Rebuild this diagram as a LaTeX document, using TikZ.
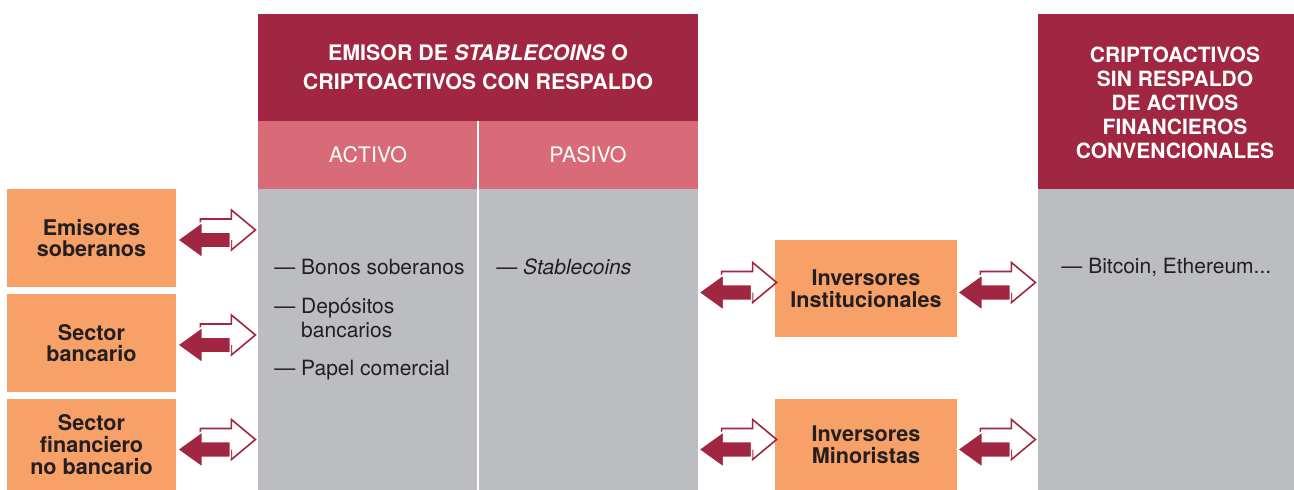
\documentclass[tikz,border=0pt]{standalone}
\usepackage{fontspec}
\setmainfont{TeX Gyre Heros}
\usetikzlibrary{calc,positioning}
\definecolor{granate}{HTML}{A02641}
\definecolor{rosa}{HTML}{D96B79}
\definecolor{gris}{HTML}{BCBDC0}
\definecolor{naranja}{HTML}{F7A067}
\definecolor{tinta}{HTML}{231F20}
\tikzset{
    cabecera/.style={fill=granate,inner sep=0pt,text=white,align=center,
      font=\bfseries\fontsize{10.7}{14.5}\selectfont},
    subcab/.style={fill=rosa,inner sep=0pt,text=white,
      minimum width=110pt,minimum height=34pt,font=\fontsize{10.7}{13}\selectfont},
    cuerpo/.style={fill=gris,inner sep=0pt,minimum width=110pt,minimum height=150.5pt},
    actor/.style={fill=naranja,inner sep=0pt,text=tinta,align=center,
      minimum width=84.5pt,font=\bfseries\fontsize{10.8}{10.8}\selectfont},
    partida/.style={anchor=west,inner sep=0pt,text=tinta,align=left,
      font=\fontsize{10.5}{12}\selectfont},
    dobleflecha/.pic={
      \draw[granate,fill=white,line width=0.8pt] (23,-21) -- (54,-21) -- (54,-30)
        -- (78,-10) -- (54,10) -- (54,1) -- (23,1) -- cycle;
      \draw[white,fill=granate,line width=0.8pt] (0,0) -- (25,-18) -- (25,-8)
        -- (53,-8) -- (53,8) -- (25,8) -- (25,18) -- cycle;
    }
}
\begin{document}
\begin{tikzpicture}[x=0.5pt,y=-0.5pt]
  \useasboundingbox[fill=white] (0,0) rectangle (1294,490);

  \node[actor,minimum height=49pt] (sob) at (91.5,238) {Emisores\\soberanos};
  \node[actor,minimum height=49pt] (ban) at (91.5,343) {Sector\\bancario};
  \node[actor,minimum height=45.5pt] (nob) at (91.5,444.5) {Sector\\financiero\\no bancario};

  \node[cabecera,minimum width=220pt,minimum height=53.5pt] (emi) at (478,67.5)
    {EMISOR DE \textit{STABLECOINS} O\\CRIPTOACTIVOS CON RESPALDO};
  \node[subcab] (act) at (368,155) {ACTIVO};
  \node[subcab] (pas) at (588,155) {PASIVO};
  \node[cuerpo] (actb) at (368,339.5) {};
  \node[cuerpo] (pasb) at (588,339.5) {};
  \draw[white,line width=1pt] (act.north east) -- (actb.south east);

  \node[partida] (bon) at (274,267) {— Bonos soberanos};
  \node[partida] (dep) at (274,318) {— Depósitos\\\hphantom{— }bancarios};
  \node[partida] (pap) at (274,370) {— Papel comercial};
  \node[partida] (stc) at (496,267) {— \textit{Stablecoins}};

  \node[actor,minimum width=91pt,minimum height=48.5pt] (inst) at (866,288.5) {Inversores\\Institucionales};
  \node[actor,minimum width=91pt,minimum height=45.5pt] (mino) at (866,444.5) {Inversores\\Minoristas};

  \node[cabecera,minimum width=128pt,minimum height=87.5pt] (cri) at (1166,101.5) {};
  \node[cabecera,fill=none,font=\bfseries\fontsize{10.5}{12}\selectfont] (critxt) at (1175,103)
    {CRIPTOACTIVOS\\SIN RESPALDO\\DE ACTIVOS\\FINANCIEROS\\CONVENCIONALES};
  \node[cuerpo,minimum width=128pt] (crib) at (1166,339.5) {};
  \node[partida] (btc) at (1061,267) {— Bitcoin, Ethereum...};

  \pic at ($(sob.east)+(1,2)$) {dobleflecha};
  \pic at ($(ban.east)+(1,2)$) {dobleflecha};
  \pic at ($(nob.east)+(1,5)$) {dobleflecha};
  \pic at ($(inst.west)+(-76,4)$) {dobleflecha};
  \pic at ($(inst.east)+(0,4)$) {dobleflecha};
  \pic at ($(mino.west)+(-76,5)$) {dobleflecha};
  \pic at ($(mino.east)+(0,5)$) {dobleflecha};
\end{tikzpicture}
\end{document}
